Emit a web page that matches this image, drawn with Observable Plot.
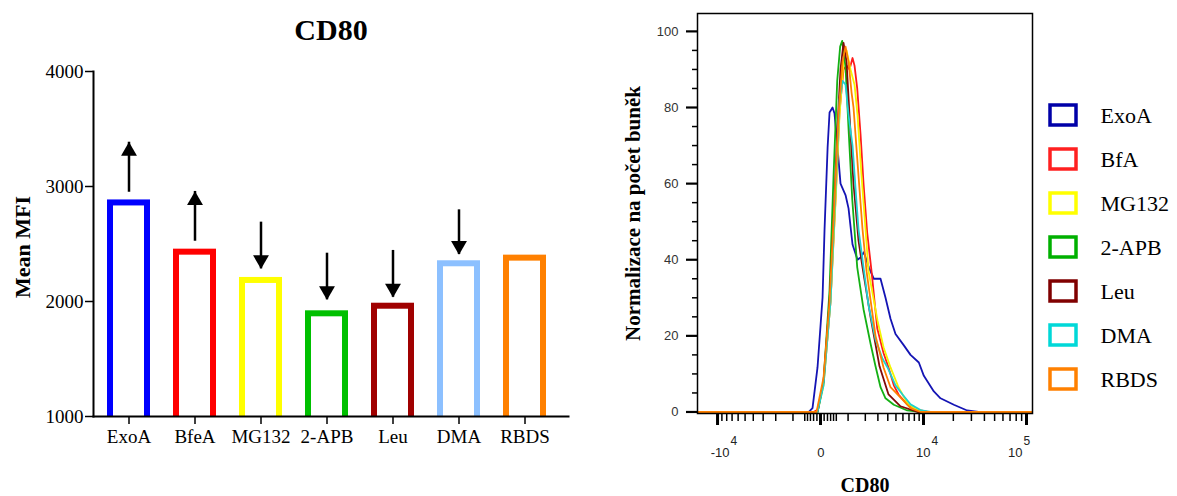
<!DOCTYPE html>
<html><head><meta charset="utf-8">
<script src="https://cdn.jsdelivr.net/npm/d3@7"></script>
<script src="https://cdn.jsdelivr.net/npm/@observablehq/plot@0.6"></script>
<style>
html,body{margin:0;padding:0;background:#fff;}
#wrap{position:relative;width:1177px;height:496px;overflow:hidden;background:#fff;}
.panel{position:absolute;}
</style></head><body>
<div id="wrap">
  <div id="bars" class="panel" style="left:0;top:0;"></div>
  <div id="hist" class="panel" style="left:600px;top:0;"></div>
  <div id="legend" class="panel" style="left:1040px;top:80px;"></div>
</div>
<script>
// ---------- Bar chart data ----------
const categories = ["ExoA", "BfeA", "MG132", "2-APB", "Leu", "DMA", "RBDS"];
const meanMFI = [2857, 2429, 2183, 1893, 1959, 2328, 2377];
const barColors = ["#0000ff", "#ff0000", "#ffff00", "#00c000", "#a00000", "#8cc0ff", "#ff8000"];
const arrowFrom = [2950, 2524, 2690, 2420, 2444, 2797, null];
const arrowTo = [3385, 2957, 2284, 2015, 2037, 2409, null];
const barYTicks = [1000, 2000, 3000, 4000];

// ---------- Histogram data (CD80 value, % of max) ----------
const seriesNames = ["ExoA", "BfA", "MG132", "2-APB", "Leu", "DMA", "RBDS"];
const lineColors = ["#1414b4", "#ff1a1a", "#f5f500", "#14b014", "#800a0a", "#20d0d0", "#ff8000"];
const legendColors = ["#0000a8", "#ff2020", "#ffff00", "#00b000", "#800000", "#00d8d8", "#ff8000"];

const histExoA = [[-16000,0],[-353,0],[-233,1],[-83,11.7],[55,30],[112,48],[204,69.5],[265,78.7],[365,80],[435,78.4],[546,69.5],[665,60],[881,57],[1022,53.5],[1224,44],[1502,40],[1684,40.6],[1900,42],[2255,38],[2650,35],[3246,35],[3751,30],[4314,24.5],[4940,20.5],[6144,17.5],[7276,15],[8932,13],[10080,9.5],[12776,5.4],[14917,3.6],[20237,1.9],[27300,0.4],[35000,0],[113800,0]];
const histBfA = [[-16000,0],[-200,0],[-83,0.6],[83,7.6],[297,29],[471,56],[625,79],[792,90],[927,91],[1070,90],[1224,93],[1332,91],[1485,85],[1684,73],[1878,60],[2135,47],[2460,37],[2940,22],[3543,15.5],[4082,11.7],[4720,7],[5350,4.6],[6695,2],[8649,0.6],[11001,0],[113800,0]];
const histMG132 = [[-16000,0],[-83,0],[83,7],[297,29],[471,55],[625,78],[792,92],[927,95],[1121,90],[1332,86],[1502,78],[1747,62],[2015,48],[2230,37],[2967,24],[3543,17],[4314,11.7],[5350,6.5],[5938,4.6],[6746,2.3],[8235,0.8],[10490,0],[113800,0]];
const hist2APB = [[-16000,0],[-83,0],[83,8],[265,32],[400,62],[535,87],[650,96],[735,97.5],[881,90.6],[1036,73],[1212,55.7],[1485,38],[1878,27],[2382,18],[2791,12],[3246,6.5],[3751,3.6],[4720,1.9],[6695,0.4],[9000,0],[113800,0]];
const histLeu = [[-16000,0],[-83,0],[83,8],[265,29],[400,50],[546,75],[665,90],[792,97],[927,92],[1070,78],[1277,60],[1562,45],[1812,38],[2382,25],[3150,12],[4082,4.6],[5638,1.5],[8649,0],[113800,0]];
const histDMA = [[-16000,0],[-83,0],[83,7],[297,29],[471,58],[625,82],[749,87],[881,86],[1022,78],[1224,70],[1444,55],[1562,48],[1812,40],[2230,28],[2791,19],[3442,14],[3969,11.7],[4940,7],[5938,4.6],[7276,2],[9303,0.5],[11811,0],[113800,0]];
const histRBDS = [[-16000,0],[-111,0],[83,9],[265,29],[435,55],[585,78],[749,92],[881,96],[1022,92],[1172,84],[1277,80],[1562,62],[1812,48],[2085,37],[2791,20],[3543,11.7],[4314,6.5],[5211,4.6],[7276,1],[9303,0],[113800,0]];

const yMajorTicks = [0, 20, 40, 60, 80, 100];
const yMinorTicks = [5, 10, 15, 25, 30, 35, 45, 50, 55, 65, 70, 75, 85, 90, 95];
const xMajorTicks = [-10000, 0, 10000, 100000];
const xTickBase = ["-10", "0", "10", "10"];
const xTickExp = ["4", "", "4", "5"];
const xMinorTicks = [-9000,-8000,-7000,-6000,-5000,-4000,-3000,-2000,-1000,-500,-400,-300,-200,-100,
  100,200,300,400,500,1000,2000,3000,4000,5000,6000,7000,8000,9000,
  20000,30000,40000,50000,60000,70000,80000,90000];

// ---------- Build ----------
const serif = "'Liberation Serif', 'Times New Roman', serif";
const sans = "'Liberation Sans', Arial, sans-serif";

const barData = categories.map((c, i) => ({c, v: meanMFI[i], col: barColors[i]}));
const arrowData = categories.map((c, i) => ({c, from: arrowFrom[i], to: arrowTo[i]})).filter(d => d.from != null);
const upArrows = arrowData.filter(d => d.to > d.from);
const downArrows = arrowData.filter(d => d.to < d.from);

const barPlot = Plot.plot({
  width: 600, height: 496,
  marginLeft: 93, marginRight: 32, marginTop: 71, marginBottom: 80,
  style: {fontFamily: serif, fontSize: "19px", background: "white", color: "black", overflow: "visible"},
  x: {type: "band", domain: categories, range: [93, 560], paddingInner: 0.445, paddingOuter: 0.22, label: null},
  y: {domain: [1000, 4000], label: null},
  marks: [
    Plot.barY(barData, {x: "c", y1: () => 1000, y2: "v", fill: "white", stroke: d => d.col, strokeWidth: 6, insetBottom: -6, clip: true}),
    Plot.ruleX(arrowData, {x: "c", y1: "from", y2: "to", stroke: "black", strokeWidth: 2.5}),
    Plot.dot(upArrows, {x: "c", y: "to", symbol: "triangle", r: 5.9, fill: "black", stroke: null, dy: 9}),
    Plot.dot(downArrows, {x: "c", y: "to", symbol: "triangle", r: 5.9, fill: "black", stroke: null, rotate: 180, dy: -9}),
    Plot.frame({anchor: "left", strokeWidth: 2}),
    Plot.frame({anchor: "bottom", strokeWidth: 2}),
    Plot.axisY(barYTicks, {tickSize: 8, tickPadding: 2, fontSize: 19, strokeWidth: 1.5, tickFormat: d => String(d)}),
    Plot.axisX({tickSize: 8, tickPadding: 5, fontSize: 19, strokeWidth: 1.5}),
    Plot.text(["CD80"], {frameAnchor: "top", dy: -41, lineAnchor: "middle", fontSize: 30, fontWeight: "bold"}),
    Plot.text(["Mean MFI"], {frameAnchor: "left", dx: -71, dy: 3, rotate: -90, textAnchor: "middle", lineAnchor: "middle", fontSize: 22, fontWeight: "bold"})
  ]
});
document.getElementById("bars").appendChild(barPlot);

const hists = [histExoA, histBfA, histMG132, hist2APB, histLeu, histDMA, histRBDS];
const histRows = seriesNames.flatMap((s, i) => hists[i].map(([x, y]) => ({series: s, x, y, col: lineColors[i]})));

const xLabel = (i, dxBase) => [
  Plot.text([xMajorTicks[i]], {x: d => d, text: () => xTickBase[i], textAnchor: "end", lineAnchor: "middle", dx: dxBase, frameAnchor: "bottom", dy: 39, fontFamily: sans, fontSize: 13, fill: "#222"}),
  Plot.text([xMajorTicks[i]], {x: d => d, text: () => xTickExp[i], textAnchor: "start", lineAnchor: "middle", dx: dxBase + 1, frameAnchor: "bottom", dy: 28, fontFamily: sans, fontSize: 12, fill: "#222"})
];

const histPlot = Plot.plot({
  width: 440, height: 496,
  marginLeft: 97, marginRight: 8, marginTop: 13, marginBottom: 83,
  style: {fontFamily: serif, fontSize: "13px", background: "white", color: "black", overflow: "visible"},
  x: {type: "symlog", constant: 1250, domain: [-16000, 113800], label: null},
  y: {domain: [-0.4, 104.7], label: null},
  marks: [
    Plot.line(histRows, {x: "x", y: "y", z: "series", stroke: d => d.col, strokeWidth: 1.8, clip: true}),
    Plot.frame({strokeWidth: 1.5}),
    Plot.axisY(yMinorTicks, {tickSize: 5, tickFormat: () => "", strokeWidth: 1.5}),
    Plot.axisY(yMajorTicks, {tickSize: 11, tickPadding: 8, strokeWidth: 2.2, fontFamily: sans, fontSize: 13, fill: "#333", tickFormat: d => String(d)}),
    Plot.axisX(xMinorTicks, {tickSize: 8, tickFormat: () => "", strokeWidth: 1.5}),
    Plot.axisX(xMajorTicks, {tickSize: 12, tickFormat: () => "", strokeWidth: 3}),
    ...xLabel(0, 12), ...xLabel(1, 4), ...xLabel(2, 7), ...xLabel(3, -4),
    Plot.text(["CD80"], {frameAnchor: "bottom", dy: 72, lineAnchor: "middle", fontSize: 20, fontWeight: "bold", fontFamily: serif}),
    Plot.text(["Normalizace na počet buněk"], {frameAnchor: "left", dx: -64, rotate: -90, textAnchor: "middle", lineAnchor: "middle", fontSize: 21, fontWeight: "bold", fontFamily: serif})
  ]
});
document.getElementById("hist").appendChild(histPlot);

const legendPlot = Plot.plot({
  width: 137, height: 330, margin: 0,
  style: {fontFamily: serif, background: "transparent", overflow: "visible"},
  x: {type: "band", domain: ["swatch"], range: [10, 36], padding: 0, axis: null},
  y: {type: "band", domain: seriesNames, range: [11.8, 322.2], padding: 0, axis: null},
  marks: [
    Plot.cell(seriesNames, {x: () => "swatch", y: d => d, stroke: (d, i) => legendColors[i], fill: "white", strokeWidth: 3.5, insetTop: 12, insetBottom: 12, insetLeft: 0, insetRight: 0}),
    Plot.text(seriesNames, {y: d => d, frameAnchor: "left", dx: 60, textAnchor: "start", fontSize: 22, fontFamily: serif, fill: "black"})
  ]
});
document.getElementById("legend").appendChild(legendPlot);
</script>
</body></html>
